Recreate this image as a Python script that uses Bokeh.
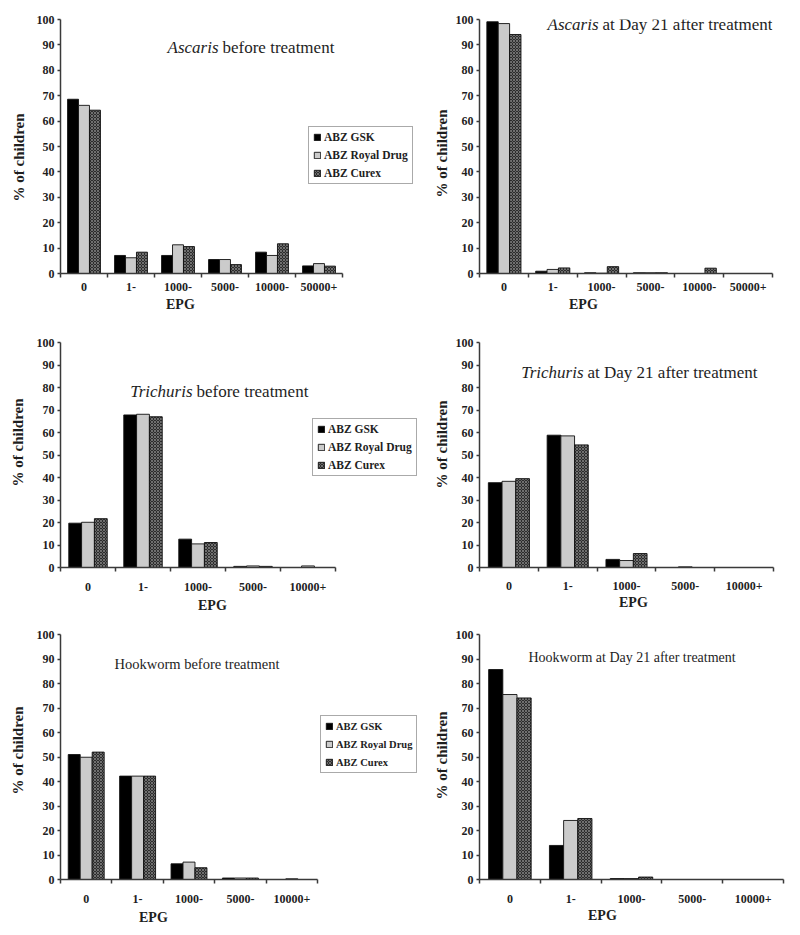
from bokeh.plotting import figure
from bokeh.models import Range1d, FixedTicker, LinearAxis, Label, Legend, LegendItem, Title
from bokeh.layouts import row, column
from bokeh.embed import file_html
from bokeh.resources import INLINE

# ---------------- data ----------------
SERIES = ["ABZ GSK", "ABZ Royal Drug", "ABZ Curex"]
EPG_ASCARIS = ["0", "1-", "1000-", "5000-", "10000-", "50000+"]
EPG_OTHER = ["0", "1-", "1000-", "5000-", "10000+"]
Y_TICKS = [0, 10, 20, 30, 40, 50, 60, 70, 80, 90, 100]

asc_before_gsk = [68.6, 7.1, 7.1, 5.5, 8.4, 3.0]
asc_before_royal = [66.2, 6.2, 11.3, 5.5, 7.1, 3.9]
asc_before_curex = [64.3, 8.4, 10.6, 3.5, 11.7, 2.9]

asc_after_gsk = [99.1, 0.9, 0.3, 0.3, 0.0, 0.0]
asc_after_royal = [98.4, 1.6, 0.1, 0.3, 0.0, 0.0]
asc_after_curex = [94.1, 2.2, 2.7, 0.3, 2.1, 0.0]

tri_before_gsk = [19.7, 67.8, 12.6, 0.5, 0.0]
tri_before_royal = [20.1, 68.1, 10.5, 0.7, 0.7]
tri_before_curex = [21.7, 67.0, 11.1, 0.5, 0.0]

tri_after_gsk = [37.7, 58.8, 3.6, 0.0, 0.0]
tri_after_royal = [38.3, 58.5, 3.1, 0.3, 0.0]
tri_after_curex = [39.5, 54.5, 6.2, 0.0, 0.0]

hook_before_gsk = [51.0, 42.2, 6.4, 0.6, 0.0]
hook_before_royal = [49.9, 42.2, 7.1, 0.6, 0.3]
hook_before_curex = [52.0, 42.2, 4.8, 0.6, 0.0]

hook_after_gsk = [85.7, 13.9, 0.4, 0.0, 0.0]
hook_after_royal = [75.5, 24.1, 0.4, 0.0, 0.0]
hook_after_curex = [74.1, 24.9, 1.0, 0.0, 0.0]

# ---------------- styling ----------------
SERIF = "Liberation Serif"
AXIS_COLOR = "#3a3a3a"
TEXT_COLOR = "#1e1e1e"
BAR_STYLES = [
    dict(fill_color="#000000"),
    dict(fill_color="#cbcbcb"),
    dict(fill_color="#2c2c2c", hatch_pattern="diagonal_cross", hatch_color="#8c8c8c",
         hatch_scale=3.0, hatch_weight=0.7),
]


def make_panel(cats, series_vals, fig_box, frame, title, ylab, epg, tick_standoff,
               legend=None):
    fx, fy, fw, fh = fig_box
    f_left, f_right, axis_right, f_top, f_bottom = frame
    n = len(cats)
    frame_w = f_right - f_left
    axis_w = axis_right - f_left
    x_end = -0.5 + n * frame_w / axis_w

    p = figure(width=fw, height=fh, x_range=Range1d(-0.5, x_end), y_range=Range1d(0, 100),
               output_backend="svg", toolbar_location=None, title=None,
               x_axis_type=None, y_axis_type=None,
               min_border_left=f_left - fx, min_border_right=fx + fw - f_right,
               min_border_top=f_top - fy, min_border_bottom=fy + fh - f_bottom)
    p.outline_line_color = None
    p.background_fill_color = "white"
    p.border_fill_color = "white"

    centers = list(range(n))
    bw = 0.233
    renderers = []
    for k, vals in enumerate(series_vals):
        xs = [c + (k - 1) * bw for c in centers]
        r = p.vbar(x=xs, top=vals, bottom=0, width=bw, line_color="#111111", line_width=0.9,
                   **BAR_STYLES[k])
        renderers.append(r)

    xa = LinearAxis(ticker=FixedTicker(ticks=centers, minor_ticks=[c - 0.5 for c in range(n + 1)]),
                    bounds=(-0.5, n - 0.5),
                    major_label_overrides={c: lab for c, lab in zip(centers, cats)})
    xa.axis_line_color = AXIS_COLOR
    xa.axis_line_width = 1.5
    xa.major_tick_line_color = None
    xa.major_tick_out = 0
    xa.major_tick_in = 0
    xa.minor_tick_line_color = AXIS_COLOR
    xa.minor_tick_line_width = 1.5
    xa.minor_tick_out = 4
    xa.minor_tick_in = 0
    xa.major_label_standoff = tick_standoff
    xa.major_label_text_font = SERIF
    xa.major_label_text_font_style = "bold"
    xa.major_label_text_font_size = "12px"
    xa.major_label_text_color = TEXT_COLOR
    p.add_layout(xa, "below")

    ya = LinearAxis(ticker=FixedTicker(ticks=Y_TICKS, minor_ticks=[]))
    ya.axis_line_color = AXIS_COLOR
    ya.axis_line_width = 1.5
    ya.major_tick_line_color = AXIS_COLOR
    ya.major_tick_line_width = 1.5
    ya.major_tick_out = 3
    ya.major_tick_in = 0
    ya.minor_tick_line_color = None
    ya.major_label_standoff = 3
    ya.major_label_text_font = SERIF
    ya.major_label_text_font_style = "bold"
    ya.major_label_text_font_size = "12px"
    ya.major_label_text_color = TEXT_COLOR
    p.add_layout(ya, "left")

    def sx(px):
        return px - f_left

    def sy(py):
        return f_bottom - py

    # chart title inside the plot area (italic genus + normal rest)
    parts, split_x, ty, tsize = title
    if len(parts) == 2:
        p.add_layout(Label(x=sx(split_x - 4), y=sy(ty), x_units="screen", y_units="screen",
                           text=parts[0], text_font=SERIF, text_font_style="italic",
                           text_font_size=f"{tsize}px", text_align="right", text_baseline="middle",
                           text_color=TEXT_COLOR))
        p.add_layout(Label(x=sx(split_x), y=sy(ty), x_units="screen", y_units="screen",
                           text=parts[1], text_font=SERIF, text_font_style="normal",
                           text_font_size=f"{tsize}px", text_align="left", text_baseline="middle",
                           text_color=TEXT_COLOR))
    else:
        p.add_layout(Label(x=sx(split_x), y=sy(ty), x_units="screen", y_units="screen",
                           text=parts[0], text_font=SERIF, text_font_style="normal",
                           text_font_size=f"{tsize}px", text_align="left", text_baseline="middle",
                           text_color=TEXT_COLOR))

    # y axis title: (center y on page, standoff)
    ycen, ystand = ylab
    ylen = 88
    p.add_layout(Title(text="% of children", align="left", offset=f_bottom - (ycen + ylen / 2),
                       standoff=ystand, text_font=SERIF, text_font_style="bold",
                       text_font_size="15px", text_color=TEXT_COLOR), "left")
    # x axis title: (center x on page, standoff)
    xcen, xstand = epg
    p.add_layout(Title(text="EPG", align="left", offset=xcen - 14.5 - f_left,
                       standoff=xstand, text_font=SERIF, text_font_style="bold",
                       text_font_size="14px", text_color=TEXT_COLOR), "below")

    if legend is not None:
        lx, lb, lsize = legend
        items = [LegendItem(label=name, renderers=[r]) for name, r in zip(SERIES, renderers)]
        lg = Legend(items=items, location=(sx(lx), sy(lb)))
        lg.margin = 0
        lg.padding = 4
        lg.spacing = 6
        lg.glyph_width = 8
        lg.glyph_height = 8
        lg.label_height = 12
        lg.label_standoff = 3
        lg.label_text_font = SERIF
        lg.label_text_font_style = "bold"
        lg.label_text_font_size = f"{lsize}px"
        lg.label_text_color = TEXT_COLOR
        lg.border_line_color = "#555555"
        lg.border_line_width = 1.5
        lg.background_fill_color = "white"
        lg.background_fill_alpha = 1.0
        p.add_layout(lg)
    return p


p1 = make_panel(EPG_ASCARIS, [asc_before_gsk, asc_before_royal, asc_before_curex],
                (0, 0, 428, 318), (60, 424, 342, 17, 273),
                (["Ascaris", "before treatment"], 222, 47, 17), (157, 14), (180, 2), 5,
                legend=(308, 184, 11.5))
p2 = make_panel(EPG_ASCARIS, [asc_after_gsk, asc_after_royal, asc_after_curex],
                (428, 0, 372, 318), (479, 772, 772, 19, 274),
                (["Ascaris", "at Day 21 after treatment"], 602, 25, 17), (154, 6), (583, 2), 5)
p3 = make_panel(EPG_OTHER, [tri_before_gsk, tri_before_royal, tri_before_curex],
                (0, 318, 428, 310), (60, 424, 335, 342, 568),
                (["Trichuris", "before treatment"], 196, 392, 17), (443, 15), (212, 4), 11,
                legend=(312, 477, 11.5))
p4 = make_panel(EPG_OTHER, [tri_after_gsk, tri_after_royal, tri_after_curex],
                (428, 318, 372, 310), (479, 773, 773, 342, 567),
                (["Trichuris", "at Day 21 after treatment"], 587, 372, 17), (444, 6), (633, 0), 10)
p5 = make_panel(EPG_OTHER, [hook_before_gsk, hook_before_royal, hook_before_curex],
                (0, 628, 428, 306), (60, 424, 317, 634, 879),
                (["Hookworm before treatment"], 114, 663, 14.5), (750, 15), (153, 4), 11,
                legend=(320, 773, 10.5))
p6 = make_panel(EPG_OTHER, [hook_after_gsk, hook_after_royal, hook_after_curex],
                (428, 628, 372, 306), (479, 783, 783, 634, 879),
                (["Hookworm at Day 21 after treatment"], 528, 657, 14), (755, 6), (602, 0), 11)

layout = column(row(p1, p2), row(p3, p4), row(p5, p6))
open("out.html", "w").write(file_html(layout, INLINE))
